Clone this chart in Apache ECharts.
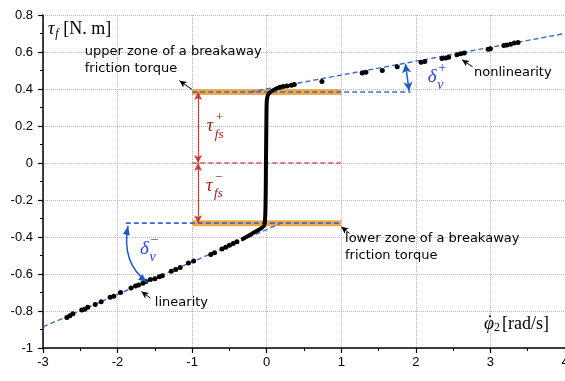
<!DOCTYPE html>
<html><head><meta charset="utf-8">
<script src="https://cdn.jsdelivr.net/npm/echarts@6/dist/echarts.min.js"></script>
<style>html,body{margin:0;padding:0;background:#fff}#c{width:565px;height:381px}</style>
</head><body><div id="c"></div>
<script>
// ---- data ----
const xTicks = [-3, -2, -1, 0, 1, 2, 3, 4];
const yTicks = [-1, -0.8, -0.6, -0.4, -0.2, 0, 0.2, 0.4, 0.6, 0.8];

const lowerX = [-2.68,-2.64,-2.60,-2.48,-2.44,-2.40,-2.30,-2.22,-2.10,-2.05,-1.96,-1.82,-1.76,-1.72,-1.66,-1.62,-1.56,-1.50,-1.44,-1.40,-1.28,-1.22,-1.16,-1.05,-0.98,-0.75,-0.70,-0.60,-0.55,-0.50,-0.45,-0.40];
const lowerY = [-0.835,-0.825,-0.815,-0.795,-0.79,-0.78,-0.765,-0.75,-0.725,-0.72,-0.70,-0.675,-0.665,-0.66,-0.65,-0.64,-0.63,-0.625,-0.615,-0.61,-0.585,-0.575,-0.565,-0.54,-0.53,-0.495,-0.485,-0.465,-0.455,-0.445,-0.435,-0.425];

const upperX = [0.18,0.22,0.27,0.33,0.37,0.74,1.28,1.33,1.55,1.75,2.07,2.12,2.35,2.40,2.44,2.55,2.60,2.65,2.97,3.00,3.18,3.22,3.27,3.32,3.37];
const upperY = [0.41,0.413,0.416,0.42,0.425,0.44,0.487,0.49,0.50,0.52,0.545,0.548,0.565,0.568,0.572,0.585,0.59,0.595,0.615,0.618,0.635,0.638,0.642,0.648,0.652];

const transX = [-0.34,-0.25,-0.16,-0.08,-0.03,-0.015,-0.01,-0.005,0.0,0.01,0.03,0.07,0.12,0.18];
const transY = [-0.415,-0.395,-0.373,-0.355,-0.335,-0.2,0.0,0.2,0.33,0.36,0.376,0.39,0.40,0.41];

const upperFitX = [-0.22, 4.0];
const upperFitY = [0.384, 0.70];
const lowerFitX = [-3.0, 0.2];
const lowerFitY = [-0.886, -0.324];

const breakawayPos = 0.384;
const breakawayNeg = -0.325;
const bandX = [-1, 1];
const posRefX = [-1, 1.93];
const negRefX = [-1.89, 1];
const zeroX = [-1, 1];

// ---- helpers ----
const zip = (xs, ys) => xs.map((x, i) => [x, ys[i]]);
const BLUE = '#3a6cc8';
const DASH = [5, 3];

const chart = echarts.init(document.getElementById('c'), null, {renderer: 'canvas'});

function axisCommon() {
  return {
    type: 'value',
    axisLine: {show: true, onZero: false, lineStyle: {color: '#000', width: 1.5}},
    axisTick: {show: true, inside: false, length: 5, lineStyle: {color: '#000', width: 1.2}},
    minorTick: {show: true, splitNumber: 2, length: 3, lineStyle: {color: '#000', width: 1}},
    splitLine: {show: true, lineStyle: {type: 'dotted', color: '#b8b8b8', width: 1}},
    minorSplitLine: {show: false},
    axisLabel: {color: '#000', fontSize: 13, fontFamily: 'Liberation Sans'}
  };
}

const xAxis = Object.assign(axisCommon(), {min: xTicks[0], max: xTicks[xTicks.length - 1], interval: 1});
xAxis.axisLabel = Object.assign({}, xAxis.axisLabel, {margin: 8, formatter: v => String(v)});
const yAxis = Object.assign(axisCommon(), {min: yTicks[0], max: yTicks[yTicks.length - 1], interval: 0.2});
yAxis.axisLabel = Object.assign({}, yAxis.axisLabel, {margin: 10, formatter: v => String(Number(v.toFixed(1)))});

function lineSeries(data, color, width, type, z) {
  return {type: 'line', data, showSymbol: false, symbol: 'none', z: z || 2,
    lineStyle: {color, width, type: type || 'solid'}, silent: true};
}

function arrowSeries(pairs, color, symbols, size, width) {
  return {type: 'line', data: [], silent: true, z: 5,
    markLine: {silent: true, animation: false, symbol: symbols, symbolSize: size,
      label: {show: false},
      lineStyle: {color, width, type: 'solid'},
      data: pairs.map(p => [{coord: p[0]}, {coord: p[1]}])}};
}

const dotStyle = {color: '#000', opacity: 1};

chart.setOption({
  animation: false,
  backgroundColor: '#fff',
  grid: {left: 43, right: 0, top: 15, bottom: 33, containLabel: false, outerBoundsMode: 'none'},
  xAxis, yAxis,
  series: [
    lineSeries(zip(bandX, [breakawayPos, breakawayPos]), '#f0a848', 6, 'solid', 1),
    lineSeries(zip(bandX, [breakawayNeg, breakawayNeg]), '#f0a848', 6, 'solid', 1),
    lineSeries(zip(posRefX, [breakawayPos, breakawayPos]), BLUE, 1.6, DASH, 2),
    lineSeries(zip(negRefX, [breakawayNeg, breakawayNeg]), BLUE, 1.6, DASH, 2),
    lineSeries(zip(upperFitX, upperFitY), BLUE, 1.4, DASH, 2),
    lineSeries(zip(lowerFitX, lowerFitY), BLUE, 1.4, DASH, 2),
    lineSeries(zip(zeroX, [0, 0]), '#c81010', 1.2, DASH, 2),
    Object.assign(lineSeries(zip(transX, transY), '#000', 4, 'solid', 3), {smooth: 0.3}),
    {type: 'scatter', data: zip(lowerX, lowerY), symbolSize: 5, itemStyle: dotStyle, z: 4, silent: true},
    {type: 'scatter', data: zip(upperX, upperY), symbolSize: 5, itemStyle: dotStyle, z: 4, silent: true},
    arrowSeries([[[-0.92, breakawayPos], [-0.92, 0]], [[-0.92, 0], [-0.92, breakawayNeg]]], '#cc3a3a', ['arrow', 'arrow'], [6, 8], 1.2),
    arrowSeries([[[1.86, 0.535], [1.91, 0.39]]], '#1f5cc0', ['arrow', 'arrow'], [7, 9], 1.5),
    arrowSeries([
      [[-1.0, 0.397], [-1.17, 0.445]],
      [[1.11, -0.380], [1.0, -0.345]],
      [[2.76, 0.52], [2.62, 0.558]],
      [[-1.56, -0.730], [-1.68, -0.695]]
    ], '#000', ['none', 'arrow'], [5, 7], 1)
  ]
});

// ---- annotations (text), anchored in data coordinates ----
const P = (x, y) => chart.convertToPixel({xAxisIndex: 0, yAxisIndex: 0}, [x, y]);
const g = [];
function txt(x, y, text, style, align, vAlign) {
  const p = P(x, y);
  g.push({type: 'text', x: p[0], y: p[1], z: 10, silent: true,
    style: Object.assign({text, fill: '#000', align: align || 'left', verticalAlign: vAlign || 'middle'}, style)});
  return p;
}
const sans = {font: '13px "DejaVu Sans"', lineHeight: 17};
txt(-2.44, 0.555, 'upper zone of a breakaway\nfriction torque', sans, 'left', 'middle');
txt(1.05, -0.453, 'lower zone of a breakaway\nfriction torque', sans, 'left', 'middle');
txt(2.78, 0.486, 'nonlinearity', {font: '13px "DejaVu Sans"'});
txt(-1.50, -0.753, 'linearity', {font: '13px "DejaVu Sans"'});

// curved double arrow (delta_v^-)
(function () {
  const S = P(-1.86, -0.34), E = P(-1.60, -0.645);
  const C = [S[0] - 7, S[1] + 37];
  const col = '#1f5cc0';
  g.push({type: 'bezierCurve', z: 6, silent: true,
    shape: {x1: S[0], y1: S[1], x2: E[0], y2: E[1], cpx1: C[0], cpy1: C[1]},
    style: {stroke: col, lineWidth: 1.5, fill: null}});
  function head(tip, from) {
    const dx = tip[0] - from[0], dy = tip[1] - from[1], L = Math.hypot(dx, dy);
    const ux = dx / L, uy = dy / L, len = 9, hw = 3.5;
    const bx = tip[0] - ux * len, by = tip[1] - uy * len;
    g.push({type: 'polygon', z: 7, silent: true,
      shape: {points: [[tip[0], tip[1]], [bx - uy * hw, by + ux * hw], [bx + uy * hw, by - ux * hw]]},
      style: {fill: col}});
  }
  head(S, C);
  head(E, C);
})();

function math(x, y, main, sup, sub, color, size) {
  const p = P(x, y);
  const f = 'italic ' + size + 'px "Liberation Serif"';
  g.push({type: 'text', x: p[0], y: p[1], z: 10, silent: true,
    style: {text: main, font: f, fill: color, align: 'center', verticalAlign: 'middle'}});
  const dx = size * 0.32;
  if (sup) g.push({type: 'text', x: p[0] + dx, y: p[1] - size * 0.45, z: 10, silent: true,
    style: {text: sup, font: Math.round(size * 0.72) + 'px "Liberation Serif"', fill: color, align: 'left', verticalAlign: 'middle'}});
  if (sub) g.push({type: 'text', x: p[0] + dx - 1, y: p[1] + size * 0.45, z: 10, silent: true,
    style: {text: sub, font: 'italic ' + Math.round(size * 0.72) + 'px "Liberation Serif"', fill: color, align: 'left', verticalAlign: 'middle'}});
}
math(-0.76, 0.20, 'τ', '+', 'fs', '#a01818', 18);
math(-0.77, -0.124, 'τ', '−', 'fs', '#a01818', 18);
math(2.22, 0.465, 'δ', '+', 'v', '#2b3fe6', 19);
math(-1.64, -0.465, 'δ', '−', 'v', '#2b3fe6', 19);

// axis titles
(function () {
  const p = P(-2.89, 0.724);
  g.push({type: 'text', x: p[0], y: p[1], z: 10, silent: true,
    style: {text: 'τ', font: 'italic 18px "Liberation Serif"', fill: '#000', align: 'center', verticalAlign: 'middle'}});
  g.push({type: 'text', x: p[0] + 4, y: p[1] + 5, z: 10, silent: true,
    style: {text: 'f', font: 'italic 12px "Liberation Serif"', fill: '#000', align: 'left', verticalAlign: 'middle'}});
  g.push({type: 'text', x: p[0] + 12, y: p[1], z: 10, silent: true,
    style: {text: '[N. m]', font: '18px "Liberation Serif"', fill: '#000', align: 'left', verticalAlign: 'middle'}});
  const q = P(2.98, -0.872);
  g.push({type: 'text', x: q[0], y: q[1], z: 10, silent: true,
    style: {text: 'φ', font: 'italic 18px "Liberation Serif"', fill: '#000', align: 'center', verticalAlign: 'middle'}});
  g.push({type: 'circle', shape: {cx: q[0] + 1, cy: q[1] - 8, r: 1}, style: {fill: '#000'}, z: 10, silent: true});
  g.push({type: 'text', x: q[0] + 5, y: q[1] + 4, z: 10, silent: true,
    style: {text: '2', font: '12px "Liberation Serif"', fill: '#000', align: 'left', verticalAlign: 'middle'}});
  g.push({type: 'text', x: q[0] + 13, y: q[1], z: 10, silent: true,
    style: {text: '[rad/s]', font: '18px "Liberation Serif"', fill: '#000', align: 'left', verticalAlign: 'middle'}});
})();

chart.setOption({graphic: g});
</script></body></html>
